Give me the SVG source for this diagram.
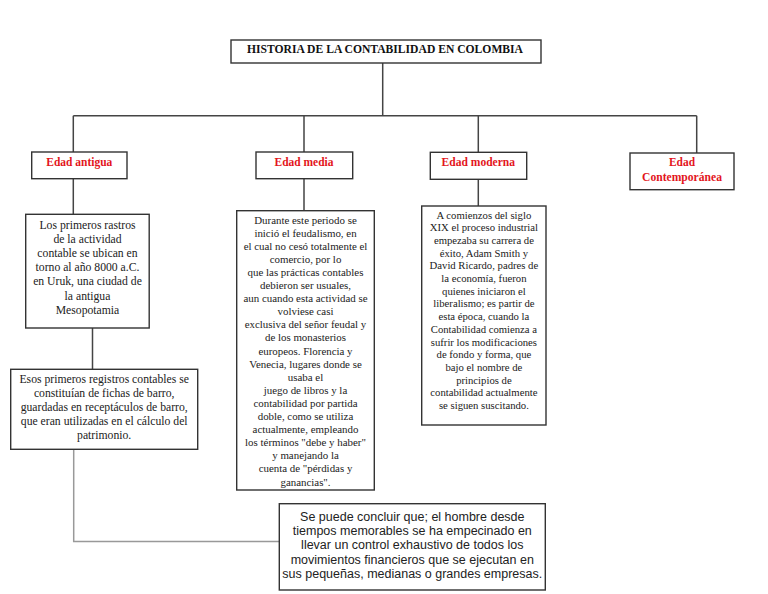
<svg xmlns="http://www.w3.org/2000/svg" width="768" height="594" viewBox="0 0 768 594">
<style>
.box{fill:#fff;stroke:#333;stroke-width:1.4}
.ln{fill:none;stroke:#444;stroke-width:1.5}
.gl{fill:none;stroke:#999;stroke-width:1.5}
.title{font-family:"Liberation Serif",serif;font-weight:bold;font-size:12.5px;fill:#111;text-anchor:middle}
.era{font-family:"Liberation Serif",serif;font-weight:bold;font-size:13px;fill:#e3151c;text-anchor:middle}
.t{font-family:"Liberation Serif",serif;font-size:11.7px;fill:#222;text-anchor:middle}
.s{font-family:"Liberation Serif",serif;font-size:10.9px;fill:#222;text-anchor:middle}
.m{font-family:"Liberation Serif",serif;font-size:10.7px;fill:#222;text-anchor:middle}
.c{font-family:"Liberation Sans",Arial,sans-serif;font-size:12.5px;fill:#222;text-anchor:middle}
</style>
<rect width="768" height="594" fill="#fff"/>
<g id="connectors">
<path class="ln" d="M382.7,63 V115.7 M73.3,115.7 H696.7 M73.3,115.7 V152 M304,115.7 V152 M478.3,115.7 V152.3 M696.7,115.7 V153"/>
<path class="ln" d="M73.3,178.7 V214.3 M304,178.7 V210.7 M478.3,179.3 V206 M92.5,328 V369.3"/>
<path class="gl" d="M73.7,449.3 V541.5 H279.3"/>
</g>
<g id="title">
<rect class="box" x="231" y="40" width="310" height="23"/>
<text class="title" x="385" y="53" textLength="276" lengthAdjust="spacingAndGlyphs">HISTORIA DE LA CONTABILIDAD EN COLOMBIA</text>
</g>
<g id="edad-antigua">
<rect class="box" x="31.7" y="152" width="95.3" height="26.7"/>
<text class="era" x="79.3" y="166" textLength="66" lengthAdjust="spacingAndGlyphs">Edad antigua</text>
</g>
<g id="edad-media">
<rect class="box" x="256" y="152" width="96.7" height="26.7"/>
<text class="era" x="304" y="166" textLength="59" lengthAdjust="spacingAndGlyphs">Edad media</text>
</g>
<g id="edad-moderna">
<rect class="box" x="430.3" y="152.3" width="96.4" height="27"/>
<text class="era" x="478.3" y="166" textLength="73.5" lengthAdjust="spacingAndGlyphs">Edad moderna</text>
</g>
<g id="edad-contemporanea">
<rect class="box" x="630" y="153" width="104" height="36.7"/>
<text class="era" x="682" y="166" textLength="26" lengthAdjust="spacingAndGlyphs">Edad</text>
<text class="era" x="682" y="181" textLength="80" lengthAdjust="spacingAndGlyphs">Contemporánea</text>
</g>
<g id="antigua-1">
<rect class="box" x="25.7" y="214.3" width="123.5" height="113.7"/>
<text class="t" x="87.5" y="228.5">Los primeros rastros</text>
<text class="t" x="87.5" y="242.7">de la actividad</text>
<text class="t" x="87.5" y="256.9">contable se ubican en</text>
<text class="t" x="87.5" y="271.1">torno al año 8000 a.C.</text>
<text class="t" x="87.5" y="285.3">en Uruk, una ciudad de</text>
<text class="t" x="87.5" y="299.5">la antigua</text>
<text class="t" x="87.5" y="313.7">Mesopotamia</text>
</g>
<g id="antigua-2">
<rect class="box" x="10.7" y="369.3" width="187" height="80"/>
<text class="t" x="104.2" y="383">Esos primeros registros contables se</text>
<text class="t" x="104.2" y="397.1">constituían de fichas de barro,</text>
<text class="t" x="104.2" y="411.2">guardadas en receptáculos de barro,</text>
<text class="t" x="104.2" y="425.3">que eran utilizadas en el cálculo del</text>
<text class="t" x="104.2" y="439.4">patrimonio.</text>
</g>
<g id="media-1">
<rect class="box" x="236.7" y="210.7" width="137.6" height="279.3"/>
<text class="s" x="305.5" y="223.5">Durante este periodo se</text>
<text class="s" x="305.5" y="236.6">inició el feudalismo, en</text>
<text class="s" x="305.5" y="249.7">el cual no cesó totalmente el</text>
<text class="s" x="305.5" y="262.8">comercio, por lo</text>
<text class="s" x="305.5" y="275.9">que las prácticas contables</text>
<text class="s" x="305.5" y="289">debieron ser usuales,</text>
<text class="s" x="305.5" y="302.1">aun cuando esta actividad se</text>
<text class="s" x="305.5" y="315.2">volviese casi</text>
<text class="s" x="305.5" y="328.3">exclusiva del señor feudal y</text>
<text class="s" x="305.5" y="341.4">de los monasterios</text>
<text class="s" x="305.5" y="354.5">europeos. Florencia y</text>
<text class="s" x="305.5" y="367.6">Venecia, lugares donde se</text>
<text class="s" x="305.5" y="380.7">usaba el</text>
<text class="s" x="305.5" y="393.8">juego de libros y la</text>
<text class="s" x="305.5" y="406.9">contabilidad por partida</text>
<text class="s" x="305.5" y="420">doble, como se utiliza</text>
<text class="s" x="305.5" y="433.1">actualmente, empleando</text>
<text class="s" x="305.5" y="446.2">los términos "debe y haber"</text>
<text class="s" x="305.5" y="459.3">y manejando la</text>
<text class="s" x="305.5" y="472.4">cuenta de "pérdidas y</text>
<text class="s" x="305.5" y="485.5">ganancias".</text>
</g>
<g id="moderna-1">
<rect class="box" x="421.7" y="206" width="124.3" height="219"/>
<text class="m" x="483.9" y="218.5">A comienzos del siglo</text>
<text class="m" x="483.9" y="231.2">XIX el proceso industrial</text>
<text class="m" x="483.9" y="243.9">empezaba su carrera de</text>
<text class="m" x="483.9" y="256.6">éxito, Adam Smith y</text>
<text class="m" x="483.9" y="269.3">David Ricardo, padres de</text>
<text class="m" x="483.9" y="282">la economía, fueron</text>
<text class="m" x="483.9" y="294.7">quienes iniciaron el</text>
<text class="m" x="483.9" y="307.4">liberalismo; es partir de</text>
<text class="m" x="483.9" y="320.1">esta época, cuando la</text>
<text class="m" x="483.9" y="332.8">Contabilidad comienza a</text>
<text class="m" x="483.9" y="345.5">sufrir los modificaciones</text>
<text class="m" x="483.9" y="358.2">de fondo y forma, que</text>
<text class="m" x="483.9" y="370.9">bajo el nombre de</text>
<text class="m" x="483.9" y="383.6">principios de</text>
<text class="m" x="483.9" y="396.3">contabilidad actualmente</text>
<text class="m" x="483.9" y="409">se siguen suscitando.</text>
</g>
<g id="conclusion">
<rect class="box" x="279.3" y="503.7" width="266" height="86.3"/>
<text class="c" x="412.3" y="521">Se puede concluir que; el hombre desde</text>
<text class="c" x="412.3" y="535.2">tiempos memorables se ha empecinado en</text>
<text class="c" x="412.3" y="549.4">llevar un control exhaustivo de todos los</text>
<text class="c" x="412.3" y="563.6">movimientos financieros que se ejecutan en</text>
<text class="c" x="412.3" y="577.8">sus pequeñas, medianas o grandes empresas.</text>
</g>
</svg>
